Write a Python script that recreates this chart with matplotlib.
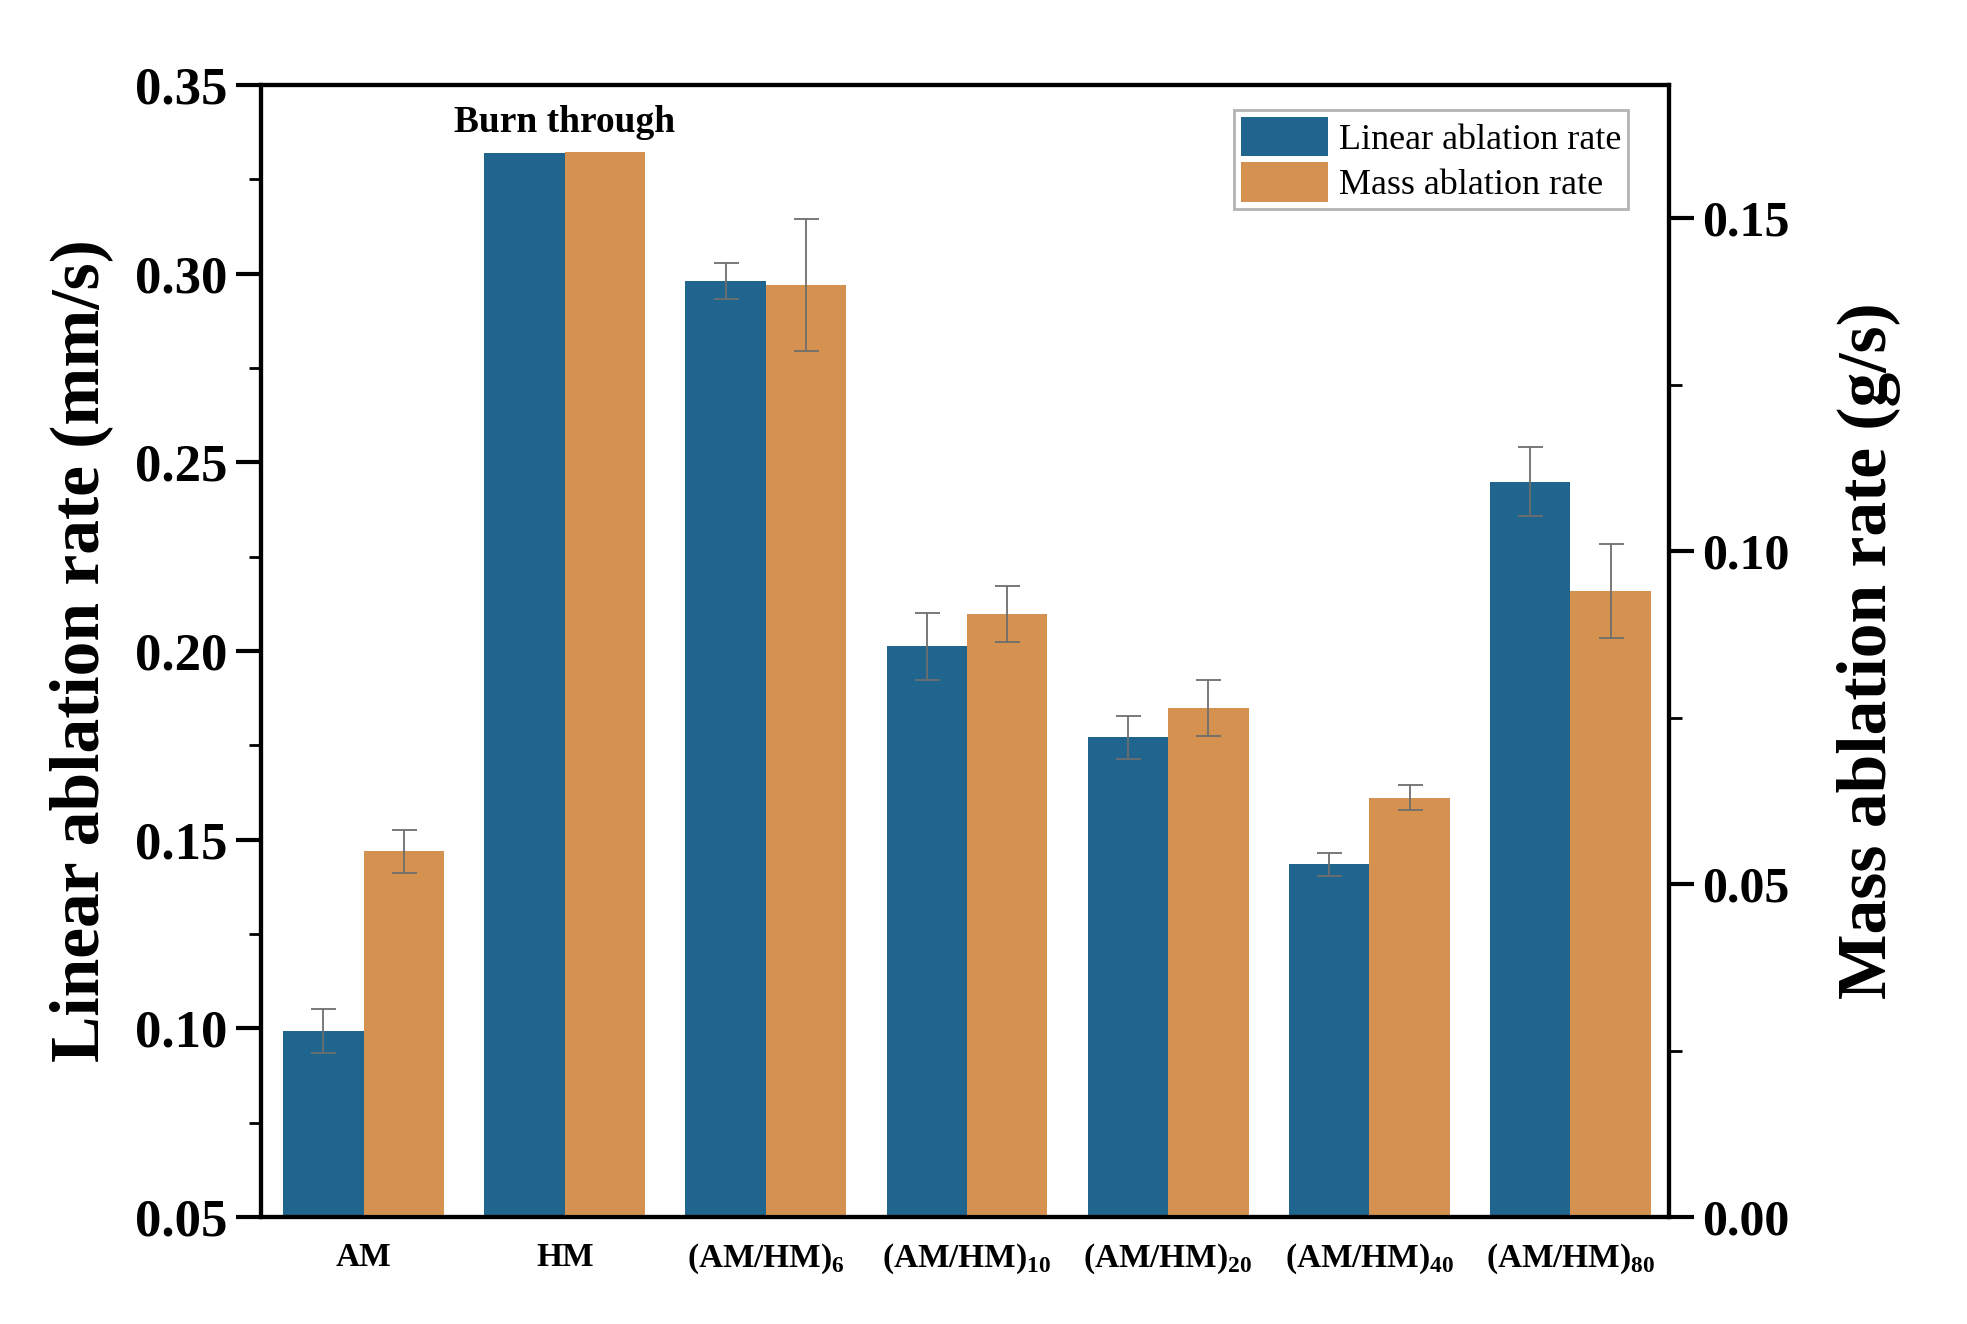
import numpy as np
import matplotlib
matplotlib.use("Agg")
import matplotlib.pyplot as plt
from matplotlib.ticker import MultipleLocator

plt.rcParams['font.family'] = ['Liberation Serif', 'DejaVu Serif']
plt.rcParams['mathtext.fontset'] = 'custom'
plt.rcParams['mathtext.rm'] = 'Liberation Serif:bold'
plt.rcParams['mathtext.bf'] = 'Liberation Serif:bold'

# ── data ───────────────────────────────────
samples = ["AM", "HM", r"(AM/HM)$_{6}$", r"(AM/HM)$_{10}$", r"(AM/HM)$_{20}$",
           r"(AM/HM)$_{40}$", r"(AM/HM)$_{80}$"]
linear_rate = [0.0992, 0.332, 0.2981, 0.2012, 0.1771, 0.1435, 0.2449]
linear_err = [0.0058, 0.0, 0.0047, 0.0090, 0.0058, 0.0030, 0.0091]
mass_rate = [0.0549, 0.160, 0.1400, 0.0906, 0.0764, 0.0630, 0.0940]
mass_err = [0.0032, 0.0, 0.0099, 0.0042, 0.0042, 0.0019, 0.0070]

blue = "#1f658d"
orange = "#d4914f"

# ── figure ─────────────────────────────────
fig = plt.figure(figsize=(19.67, 13.24), dpi=100)
ax = fig.add_axes([0.1327, 0.0808, 0.8485 - 0.1327, 0.9358 - 0.0808])
ax2 = ax.twinx()

x = np.arange(len(samples))
w = 0.4
ekw = dict(ecolor="#6e6e6e", elinewidth=1.3, capsize=9, capthick=1.3)

# HM burned through: no error bar
lin_err = [e if e > 0 else np.nan for e in linear_err]
mas_err = [e if e > 0 else np.nan for e in mass_err]

b1 = ax.bar(x - w / 2, linear_rate, w, color=blue, yerr=lin_err,
            error_kw=ekw, label="Linear ablation rate", zorder=2)
b2 = ax2.bar(x + w / 2, mass_rate, w, color=orange, yerr=mas_err,
             error_kw=ekw, label="Mass ablation rate", zorder=2)

ax.set_xlim(-0.51, 6.49)
ax.set_ylim(0.05, 0.35)
ax2.set_ylim(0.0, 0.17)

ax.yaxis.set_major_locator(MultipleLocator(0.05))
ax.yaxis.set_minor_locator(MultipleLocator(0.025))
ax2.yaxis.set_major_locator(MultipleLocator(0.05))
ax2.yaxis.set_minor_locator(MultipleLocator(0.025))

ax.set_xticks(x)
ax.set_xticklabels(samples, fontsize=24, fontweight="bold")
ax.tick_params(axis="x", length=0, pad=18)
ax.tick_params(axis="y", which="major", direction="out", length=18, width=3,
               labelsize=38, pad=6)
ax.tick_params(axis="y", which="minor", direction="out", length=9, width=2)
ax2.tick_params(axis="y", which="major", direction="out", length=18, width=3,
                labelsize=36, pad=6)
ax2.tick_params(axis="y", which="minor", direction="out", length=9, width=2)

ax.set_yticklabels([f"{v:.2f}" for v in ax.get_yticks()], fontweight="bold")
ax2.set_yticklabels([f"{v:.2f}" for v in ax2.get_yticks()], fontweight="bold")

for a in (ax, ax2):
    for s in a.spines.values():
        s.set_linewidth(3)

ax.set_ylabel("Linear ablation rate (mm/s)", fontsize=50, fontweight="bold",
              labelpad=16)
ax2.set_ylabel("Mass ablation rate (g/s)", fontsize=50, fontweight="bold",
               labelpad=34)

ax.text(x[1], 0.3355, "Burn through", ha="center", va="bottom",
        fontsize=27, fontweight="bold")

leg = ax2.legend(handles=[b1, b2], loc="upper right",
                 bbox_to_anchor=(0.971, 0.978), fontsize=26,
                 frameon=True, fancybox=False, edgecolor="#a0a0a0",
                 handlelength=2.4, handleheight=1.3, handletextpad=0.3,
                 labelspacing=0.15, borderpad=0.2, borderaxespad=0)
leg.get_frame().set_linewidth(2)

plt.savefig("out.png", dpi=100)
